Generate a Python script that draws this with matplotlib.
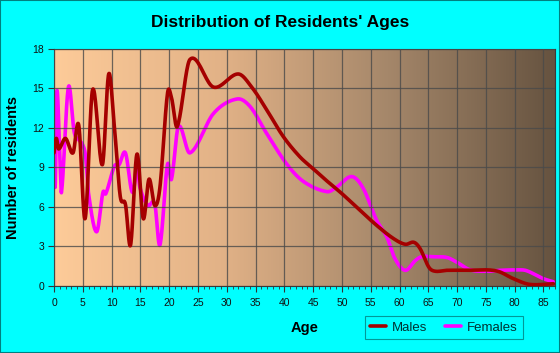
import numpy as np
import matplotlib
matplotlib.use("Agg")
import matplotlib.pyplot as plt
from matplotlib.colors import LinearSegmentedColormap

plt.rcParams['font.family'] = ['Liberation Sans', 'DejaVu Sans']

title = "Distribution of Residents' Ages"
x_label = "Age"
y_label = "Number of residents"
series_names = ["Males", "Females"]

male_age = [0, 0.4, 0.8, 2.0, 3.3, 4.3, 5.4, 6.7, 8.4, 9.5, 10.5, 11.5, 12.4, 13.3, 14.4,
            15.5, 16.5, 17.5, 18.4, 19.7, 20.4, 21.4, 23.6, 27.7, 32.0, 34.5, 36.9, 39.8,
            42.7, 45.0, 47.3, 50.0, 53.1, 56.0, 58.9, 61.0, 62.5, 63.6, 65.1, 66.2, 68.2,
            71.7, 75.4, 77.4, 79.7, 82.6, 86.7]
male_val = [10.1, 11.2, 10.4, 11.2, 10.1, 12.2, 5.1, 14.9, 9.2, 16.1, 12.0, 6.8, 6.2, 3.1, 10.0,
            5.1, 8.1, 6.1, 7.5, 14.6, 14.3, 12.1, 17.2, 15.1, 16.1, 15.0, 13.4, 11.35,
            9.8, 8.9, 8.0, 7.0, 5.75, 4.6, 3.6, 3.15, 3.3, 2.8, 1.4, 1.1, 1.17,
            1.17, 1.2, 1.05, 0.55, 0.1, 0.15]

female_age = [0, 0.2, 0.5, 1.0, 1.3, 2.5, 3.5, 4.3, 5.0, 5.5, 6.0, 7.4, 8.5, 9.0, 10.5, 11.3,
              12.4, 13.6, 14.5, 14.9, 16.3, 17.5, 18.4, 19.7, 20.4, 21.6, 23.6, 27.7, 31.8,
              34.1, 36.9, 40.5, 43.4, 47.4, 49.1, 51.7, 53.7, 56.0, 57.8, 59.2, 61.0, 62.7,
              63.8, 65.9, 68.2, 69.9, 72.3, 75.4, 77.4, 80.3, 82.0, 84.9, 86.7]
female_val = [12.1, 7.5, 14.8, 10.0, 7.1, 15.1, 11.7, 11.1, 10.7, 9.8, 7.0, 4.1, 7.1, 7.0, 9.1, 9.2,
              10.1, 7.1, 9.0, 7.5, 6.1, 6.2, 3.1, 9.2, 8.1, 12.1, 10.1, 13.1, 14.2,
              13.6, 11.6, 9.2, 7.9, 7.15, 7.5, 8.3, 7.4, 5.0, 3.7, 2.06, 1.17, 1.9,
              2.2, 2.2, 2.15, 1.8, 1.2, 1.1, 1.17, 1.2, 1.15, 0.55, 0.3]

y_ticks = [0, 3, 6, 9, 12, 15, 18]
x_ticks = list(range(0, 90, 5))


def smooth(xs, ys, n=20):
    xs = np.asarray(xs, float)
    ys = np.asarray(ys, float)
    m = np.zeros_like(ys)
    m[1:-1] = (ys[2:] - ys[:-2]) / (xs[2:] - xs[:-2])
    m[0] = (ys[1] - ys[0]) / (xs[1] - xs[0])
    m[-1] = (ys[-1] - ys[-2]) / (xs[-1] - xs[-2])
    ox, oy = [], []
    for i in range(len(xs) - 1):
        h = xs[i + 1] - xs[i]
        t = np.linspace(0, 1, n, endpoint=False)
        h00 = 2 * t**3 - 3 * t**2 + 1
        h10 = t**3 - 2 * t**2 + t
        h01 = -2 * t**3 + 3 * t**2
        h11 = t**3 - t**2
        ox.append(xs[i] + t * h)
        oy.append(h00 * ys[i] + h10 * h * m[i] + h01 * ys[i + 1] + h11 * h * m[i + 1])
    ox.append([xs[-1]])
    oy.append([ys[-1]])
    return np.concatenate(ox), np.concatenate(oy)


fig = plt.figure(figsize=(5.6, 3.53), dpi=100, facecolor='#00FFFF')
ax = fig.add_axes([54 / 560, 1 - 285.7 / 353, 501 / 560, (285.7 - 49) / 353])

cmap = LinearSegmentedColormap.from_list('bg', ['#FDCB99', '#E2B287', '#A5876A', '#665340'])
grad = np.linspace(0, 1, 256).reshape(1, -1)
ax.imshow(grad, cmap=cmap, aspect='auto', extent=[0, 1, 0, 1], transform=ax.transAxes, zorder=0)

ax.set_xlim(0, 87)
ax.set_ylim(0, 18)
ax.set_xticks(x_ticks)
ax.set_xticks(range(0, 88), minor=True)
ax.set_yticks(y_ticks)
ax.grid(True, which='major', color='#4a4a4a', linewidth=0.9, alpha=0.8, zorder=1)
ax.set_axisbelow(False)

mx, my = smooth(male_age, male_val)
fx, fy = smooth(female_age, female_val)
ax.plot(mx, my, color='#A50000', linewidth=2.6, label=series_names[0], zorder=3, solid_capstyle='round')
ax.plot(fx, fy, color='#FF00FF', linewidth=2.6, label=series_names[1], zorder=2, solid_capstyle='round')

for s in ax.spines.values():
    s.set_color('#3a3a3a')
    s.set_linewidth(0.8)

ax.tick_params(axis='both', which='major', labelsize=7.5, length=4, color='#333333',
               labelcolor='#111111')
ax.tick_params(axis='x', which='major', pad=5)
ax.tick_params(axis='y', which='major', pad=3)
ax.tick_params(axis='x', which='minor', length=2.5, color='#333333')

ax.set_xlabel(x_label, fontsize=10.5, fontweight='bold', labelpad=9)
ax.set_ylabel(y_label, fontsize=10.5, fontweight='bold', labelpad=9)
fig.text(0.5, 1 - 22 / 353, title, ha='center', va='center', fontsize=12.5, fontweight='bold')

leg = fig.legend(loc='center', bbox_to_anchor=(444 / 560, 1 - 327.5 / 353), ncol=2,
                 frameon=True, fontsize=9.5, handlelength=1.2, columnspacing=1.3,
                 handletextpad=0.5, borderpad=0.4, fancybox=False)
leg.get_frame().set_facecolor('#00FFFF')
leg.get_frame().set_edgecolor('#00807F')
leg.get_frame().set_linewidth(0.8)
for t in leg.get_texts():
    t.set_color('#003333')

border = plt.Rectangle((0, 0), 1, 1, transform=fig.transFigure, fill=False,
                       edgecolor='#008080', linewidth=1.5)
fig.patches.append(border)

fig.savefig('out.png', dpi=100, facecolor=fig.get_facecolor())
